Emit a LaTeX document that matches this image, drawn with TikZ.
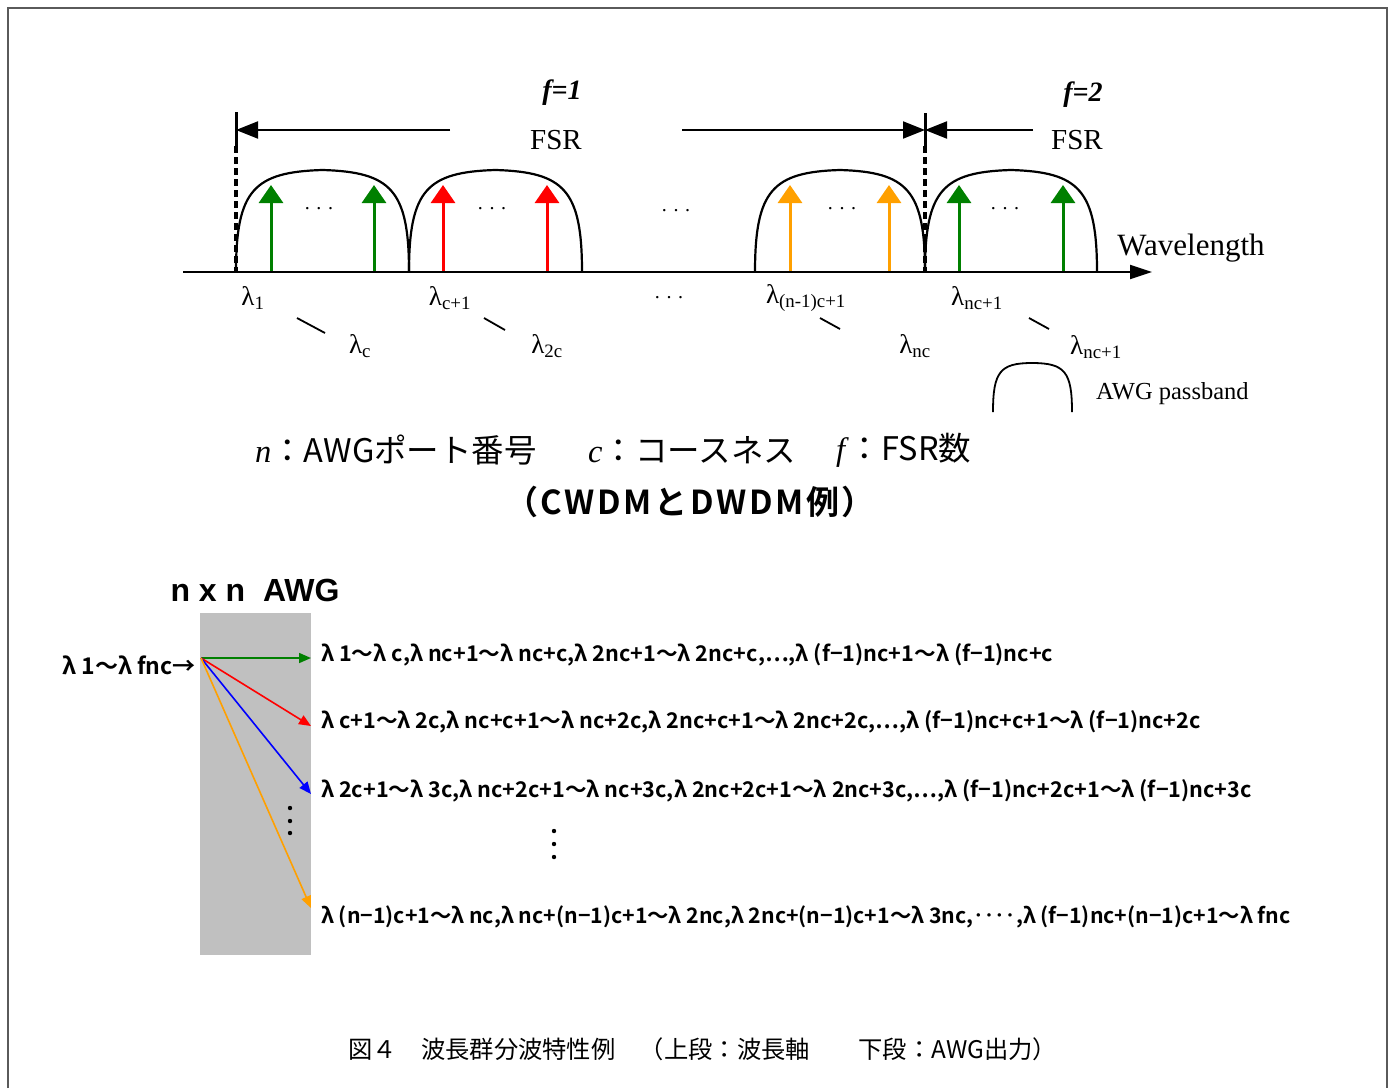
\documentclass[tikz,border=0pt]{standalone}
\usepackage{fontspec}
\setmainfont{Liberation Serif}
\newfontfamily\jp{Noto Sans CJK JP}
\newfontfamily\jpb{Noto Sans CJK JP Bold}
\newfontfamily\jpbs[LetterSpace=8]{Noto Sans CJK JP Bold}
\newfontfamily\ars{Liberation Sans}
\usetikzlibrary{arrows.meta}
\definecolor{cgreen}{RGB}{0,128,0}
\definecolor{cred}{RGB}{255,0,0}
\definecolor{corange}{RGB}{255,160,0}
\definecolor{cblue}{RGB}{0,0,255}
\definecolor{cgray}{RGB}{192,192,192}
\definecolor{cframe}{RGB}{90,90,90}
\newcommand\lam[1]{λ\textsubscript{#1}}
\begin{document}
\begin{tikzpicture}[x=1pt,y=-1pt,
  ax/.style={line width=2.2pt},
  hump/.style={line width=2.2pt},
  sig/.style={line width=3pt,-{Triangle[length=18pt,width=24pt]}},
  fsr/.style={line width=2pt,-{Triangle[length=22pt,width=17pt]}},
  outarr/.style={line width=1.6pt,-{Triangle[length=12pt,width=10pt]}},
  lbl/.style={inner sep=0pt,font=\fontsize{27}{27}\selectfont},
  dots/.style={inner sep=0pt,font=\fontsize{20}{20}\selectfont},
  ser/.style={inner sep=0pt},
  outtxt/.style={inner sep=0pt,anchor=west,font=\jpb\fontsize{21.6}{21.6}\selectfont},
  tick/.style={line width=1.8pt},
  bnd/.style={line width=3pt},
  bnddash/.style={line width=3.2pt,dash pattern=on 7pt off 4pt}
]
\useasboundingbox (0,0) rectangle (1391,1088);
% frame
\draw[cframe,line width=2pt] (8,1088) -- (8,8) -- (1387,8) -- (1387,1088);

% ---------- top diagram ----------
% passbands
\foreach \a/\b in {236/409, 409/582, 755/925, 925/1097} {
  \draw[hump] (\a,272) .. controls (\a,190) and (\a+18,172) .. ({(\a+\b)/2},170)
     .. controls (\b-18,172) and (\b,190) .. (\b,272);
}
% signal arrows
\foreach \x/\c in {271/cgreen,374/cgreen,443/cred,547/cred,790/corange,889/corange,959/cgreen,1063/cgreen}
  \draw[sig,\c] (\x,272) -- (\x,185);
% axis
\coordinate (axs) at (183,272);
\coordinate (axe) at (1152,272);
\draw[ax,-{Triangle[length=22pt,width=14pt]}] (axs) -- (axe);
% FSR boundaries
\coordinate (b1t) at (236,112);
\coordinate (b1m) at (236,146);
\coordinate (b1b) at (236,272);
\coordinate (b2t) at (925,113);
\coordinate (b2m) at (925,146);
\coordinate (b2b) at (925,272);
\draw[bnd] (b1t) -- (b1m);
\draw[bnddash] (b1m) -- (b1b);
\draw[bnd] (b2t) -- (b2m);
\draw[bnddash] (b2m) -- (b2b);
% FSR arrows
\coordinate (a1s) at (450,130);
\coordinate (a1e) at (236,130);
\coordinate (a2s) at (682,130);
\coordinate (a2e) at (925,130);
\coordinate (a3s) at (1033,130);
\coordinate (a3e) at (925,130);
\draw[fsr] (a1s) -- (a1e);
\draw[fsr] (a2s) -- (a2e);
\draw[fsr] (a3s) -- (a3e);
% labels f and FSR
\node[ser,font=\fontsize{28}{28}\selectfont\bfseries\itshape] (f1) at (562,93) {f=1};
\node[ser,font=\fontsize{28}{28}\selectfont\bfseries\itshape] (f2) at (1083,95) {f=2};
\node[ser,font=\fontsize{29}{29}\selectfont] (fsr1) at (556,140) {FSR};
\node[ser,font=\fontsize{29}{29}\selectfont] (fsr2) at (1077,140) {FSR};
\node[ser,font=\fontsize{31}{31}\selectfont] (wl) at (1191,248) {Wavelength};
% dots
\node[dots] (d1) at (319,209) {. . .};
\node[dots] (d2) at (492,209) {. . .};
\node[dots] (d3) at (676,211) {. . .};
\node[dots] (d4) at (842,209) {. . .};
\node[dots] (d5) at (1005,209) {. . .};
\node[dots] (d6) at (669,298) {. . .};
% wavelength labels
\node[lbl] (l1) at (253,298) {\lam{1}};
\node[lbl] (l2) at (450,298) {\lam{c+1}};
\node[lbl] (l3) at (806,298) {\lam{(n-1)c+1}};
\node[lbl] (l4) at (977,298) {\lam{nc+1}};
\node[lbl] (l5) at (360,346) {\lam{c}};
\node[lbl] (l6) at (547,346) {\lam{2c}};
\node[lbl] (l7) at (915,346) {\lam{nc}};
\node[lbl] (l8) at (1096,347) {\lam{nc+1}};
\draw[tick] (297,318) -- (325,333);
\draw[tick] (484,318) -- (505,330);
\draw[tick] (820,318) -- (840,329);
\draw[tick] (1029,318) -- (1049,329);
% AWG passband legend
\draw[line width=1.8pt] (993,412) .. controls (993,372) and (1000,363) .. (1032,363)
   .. controls (1065,363) and (1072,372) .. (1072,412);
\node[ser,anchor=west,font=\fontsize{24.5}{24.5}\selectfont] (pb) at (1096,394) {AWG passband};

% legend line
\node[ser,anchor=west,font=\fontsize{32.5}{32.5}\selectfont] (lgn) at (255,450) {\textit{n}\jp ：AWGポート番号};
\node[ser,anchor=west,font=\fontsize{32.5}{32.5}\selectfont] (lgc) at (588,450) {\textit{c}\jp ：コースネス};
\node[ser,anchor=west,font=\fontsize{32.5}{32.5}\selectfont] (lgf) at (836,450) {\textit{f}\jp ：FSR数};
\node[ser,font=\jpbs\fontsize{33}{33}\selectfont] (ex) at (690,502) {（CWDMとDWDM例）};

% ---------- bottom diagram ----------
\node[ser,font=\ars\bfseries\fontsize{32}{32}\selectfont] (awg) at (255,590) {n x n\ \ AWG};
\fill[cgray] (200,613) rectangle (311,955);
\node[ser,anchor=east,font=\jpb\fontsize{23}{23}\selectfont] (in) at (196,665) {λ 1〜λ fnc→};
\coordinate (src) at (201,658);
\coordinate (e1) at (311,658);
\coordinate (e2) at (311,726);
\coordinate (e3) at (311,794);
\coordinate (e4) at (311,908);
\draw[outarr,cgreen] (src) -- (e1);
\draw[outarr,cred] (src) -- (e2);
\draw[outarr,cblue] (src) -- (e3);
\draw[outarr,corange] (src) -- (e4);
\foreach \y in {808,821,833} \fill (290,\y) circle (2.2pt);
\foreach \y in {831,844,857} \fill (554,\y) circle (2.2pt);
\node[outtxt] (o1) at (321,655) {λ 1〜λ c,λ nc+1〜λ nc+c,λ 2nc+1〜λ 2nc+c,…,λ (f−1)nc+1〜λ (f−1)nc+c};
\node[outtxt] (o2) at (321,722) {λ c+1〜λ 2c,λ nc+c+1〜λ nc+2c,λ 2nc+c+1〜λ 2nc+2c,…,λ (f−1)nc+c+1〜λ (f−1)nc+2c};
\node[outtxt] (o3) at (321,791) {λ 2c+1〜λ 3c,λ nc+2c+1〜λ nc+3c,λ 2nc+2c+1〜λ 2nc+3c,…,λ (f−1)nc+2c+1〜λ (f−1)nc+3c};
\node[outtxt,font=\jpb\fontsize{21.3}{21.3}\selectfont] (o4) at (321,917) {λ (n−1)c+1〜λ nc,λ nc+(n−1)c+1〜λ 2nc,λ 2nc+(n−1)c+1〜λ 3nc,‥‥,λ (f−1)nc+(n−1)c+1〜λ fnc};

% caption
\node[ser,anchor=west,font=\jp\fontsize{24.3}{24.3}\selectfont] (cap) at (348,1049) {図４　波長群分波特性例　（上段：波長軸　　下段：AWG出力）};
\end{tikzpicture}
\end{document}
